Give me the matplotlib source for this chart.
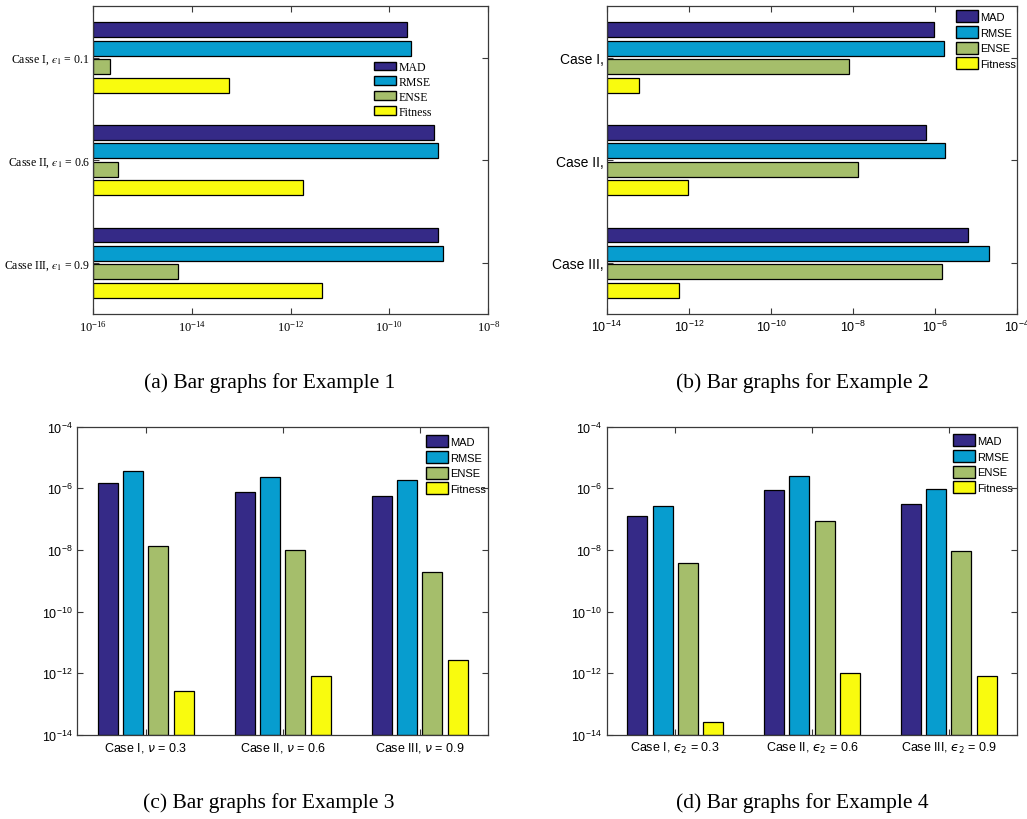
import matplotlib
matplotlib.use("Agg")
import matplotlib.pyplot as plt
import numpy as np

# error measures per case, one list per metric
metrics = ["MAD", "RMSE", "ENSE", "Fitness"]
colors = ["#352a87", "#079dcf", "#a5be6b", "#f9fb0e"]

ex1_cases = ["Casse I, $\u03f5_1$ = 0.1", "Casse II, $\u03f5_1$ = 0.6", "Casse III, $\u03f5_1$ = 0.9"]
ex1_mad = [2.3e-10, 7.9e-10, 9.5e-10]
ex1_rmse = [2.7e-10, 9.5e-10, 1.2e-9]
ex1_ense = [2.2e-16, 3.2e-16, 5.2e-15]
ex1_fit = [5.8e-14, 1.8e-12, 4.3e-12]

ex2_cases = ["Case I,", "Case II,", "Case III,"]
ex2_mad = [9.2e-7, 5.9e-7, 6.2e-6]
ex2_rmse = [1.6e-6, 1.7e-6, 2.0e-5]
ex2_ense = [8.1e-9, 1.34e-8, 1.47e-6]
ex2_fit = [6.1e-14, 9.7e-13, 5.9e-13]

ex3_cases = ["Case I, $\\nu$ = 0.3", "Case II, $\\nu$ = 0.6", "Case III, $\\nu$ = 0.9"]
ex3_mad = [1.45e-6, 7.4e-7, 5.8e-7]
ex3_rmse = [3.7e-6, 2.4e-6, 1.85e-6]
ex3_ense = [1.3e-8, 9.7e-9, 1.9e-9]
ex3_fit = [2.6e-13, 7.8e-13, 2.6e-12]

ex4_cases = ["Case I, $\u03f5_2$ = 0.3", "Case II, $\u03f5_2$ = 0.6", "Case III, $\u03f5_2$ = 0.9"]
ex4_mad = [1.23e-7, 8.6e-7, 3.2e-7]
ex4_rmse = [2.7e-7, 2.6e-6, 9.5e-7]
ex4_ense = [3.9e-9, 8.4e-8, 9.2e-9]
ex4_fit = [2.6e-14, 1.0e-12, 8.3e-13]

SERIF = ["Liberation Serif", "DejaVu Serif"]
SANS = ["Liberation Sans", "DejaVu Sans"]
EDGE = "#3a3a3a"

offsets = np.array([-0.27, -0.09, 0.09, 0.27])
bw = 0.146


def style_axes(ax, family, math, size):
    for s in ax.spines.values():
        s.set_color(EDGE)
        s.set_linewidth(0.9)
    ax.tick_params(which="major", direction="in", top=True, right=True,
                   length=4, width=0.8, color=EDGE, labelsize=size)
    ax.tick_params(which="minor", length=0)
    for lab in ax.get_xticklabels() + ax.get_yticklabels():
        lab.set_family(family)
        lab.set_math_fontfamily(math)


def add_legend(ax, fig, anchor, family, size, hl, hh, sp):
    leg = ax.legend(loc="upper left", bbox_to_anchor=anchor,
                    bbox_transform=fig.transFigure, frameon=False,
                    borderpad=0, borderaxespad=0, handlelength=hl,
                    handleheight=hh, handletextpad=0.2, labelspacing=sp,
                    prop={"family": family, "size": size})
    for h in leg.legend_handles:
        h.set_linewidth(1.0)
    return leg


def hbars(ax, series, base):
    y = np.arange(1, 4)
    for i, vals in enumerate(series):
        vals = np.asarray(vals)
        ax.barh(y + offsets[i], vals - base, height=bw, left=base,
                color=colors[i], edgecolor="black", linewidth=0.9,
                label=metrics[i])
    ax.set_xscale("log")
    ax.set_ylim(3.5, 0.5)
    ax.set_yticks(y)


def vbars(ax, series, base):
    x = np.arange(1, 4)
    for i, vals in enumerate(series):
        vals = np.asarray(vals)
        ax.bar(x + offsets[i] * 1.02, vals - base, width=bw, bottom=base,
               color=colors[i], edgecolor="black", linewidth=0.9,
               label=metrics[i])
    ax.set_yscale("log")
    ax.set_xlim(0.5, 3.5)
    ax.set_xticks(x)


fig = plt.figure(figsize=(10.27, 8.2), dpi=100)

# (a) horizontal bars, serif text
ax1 = fig.add_axes([0.0903, 0.6159, 0.3852, 0.3752])
hbars(ax1, [ex1_mad, ex1_rmse, ex1_ense, ex1_fit], 1e-16)
ax1.set_xlim(1e-16, 1e-8)
ax1.set_xticks([1e-16, 1e-14, 1e-12, 1e-10, 1e-8])
ax1.set_yticklabels(ex1_cases)
style_axes(ax1, SERIF, "stix", 9)
for lab in ax1.get_yticklabels():
    lab.set_fontsize(8.5)
ax1.tick_params(axis="y", pad=2)
add_legend(ax1, fig, (374 / 1027, 1 - 62 / 820), SERIF, 8.5, 1.85, 0.76, 0.25)

# (b) horizontal bars
ax2 = fig.add_axes([0.5907, 0.6159, 0.3999, 0.3752])
hbars(ax2, [ex2_mad, ex2_rmse, ex2_ense, ex2_fit], 1e-14)
ax2.set_xlim(1e-14, 1e-4)
ax2.set_xticks([1e-14, 1e-12, 1e-10, 1e-8, 1e-6, 1e-4])
ax2.set_yticklabels(ex2_cases)
style_axes(ax2, SANS, "dejavusans", 9)
for lab in ax2.get_yticklabels():
    lab.set_fontsize(10)
ax2.tick_params(axis="y", pad=2)
add_legend(ax2, fig, (956 / 1027, 1 - 11 / 820), SANS, 8, 2.0, 1.3, 0.33)

# (c) vertical bars
ax3 = fig.add_axes([0.0753, 0.1028, 0.4002, 0.3756])
vbars(ax3, [ex3_mad, ex3_rmse, ex3_ense, ex3_fit], 1e-14)
ax3.set_ylim(1e-14, 1e-4)
ax3.set_yticks([1e-14, 1e-12, 1e-10, 1e-8, 1e-6, 1e-4])
ax3.set_xticklabels(ex3_cases)
style_axes(ax3, SANS, "dejavusans", 9)
for lab in ax3.get_xticklabels():
    lab.set_fontsize(9)
add_legend(ax3, fig, (426 / 1027, 1 - 436 / 820), SANS, 8, 2.0, 1.3, 0.33)

# (d) vertical bars
ax4 = fig.add_axes([0.5907, 0.1028, 0.3999, 0.3756])
vbars(ax4, [ex4_mad, ex4_rmse, ex4_ense, ex4_fit], 1e-14)
ax4.set_ylim(1e-14, 1e-4)
ax4.set_yticks([1e-14, 1e-12, 1e-10, 1e-8, 1e-6, 1e-4])
ax4.set_xticklabels(ex4_cases)
style_axes(ax4, SANS, "dejavusans", 9)
for lab in ax4.get_xticklabels():
    lab.set_fontsize(9)
add_legend(ax4, fig, (953 / 1027, 1 - 435 / 820), SANS, 8, 2.0, 1.3, 0.33)

captions = ["(a) Bar graphs for Example 1", "(b) Bar graphs for Example 2",
            "(c) Bar graphs for Example 3", "(d) Bar graphs for Example 4"]
cap_pos = [(0.263, 0.533), (0.781, 0.533), (0.262, 0.021), (0.781, 0.021)]
for txt, (cx, cy) in zip(captions, cap_pos):
    fig.text(cx, cy, txt, ha="center", va="center", family=SERIF, fontsize=15.5)

fig.savefig("out.png", dpi=100)
